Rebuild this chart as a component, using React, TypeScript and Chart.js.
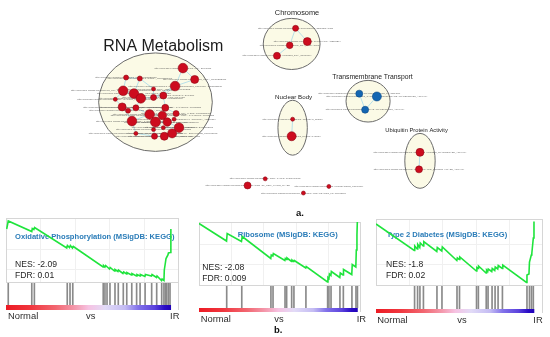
import React, { useEffect, useRef } from "react";
import { Chart, registerables } from "chart.js";
Chart.register(...registerables);

const FONT = '"Liberation Sans", Arial, Helvetica, sans-serif';

// ---------- Panel a: enrichment map (layout units, [x, y, radius]) ----------
const rnaNodes = [
  [181, 66, 4.8], [193, 78, 4], [123, 76, 2.5], [137, 77, 2.5], [173, 85, 4.8],
  [151, 88, 2], [120, 90, 4.8], [131, 93, 4.8], [138, 98, 4.8], [151, 97, 3],
  [161, 95, 3.5], [112, 99, 2], [119, 107, 4], [125, 111, 2.5], [133, 108, 3],
  [163, 108, 3.5], [147, 115, 4.8], [160, 116, 4.2], [174, 114, 3], [129, 122, 4.8],
  [153, 123, 5], [165, 123, 4.2], [172, 120, 2], [177, 129, 4.8], [161, 129, 2],
  [151, 131, 2], [133, 135, 2], [170, 135, 4.5], [152, 138, 3], [162, 138, 4],
];
const chromosomeNodes = [[296, 24, 3], [308, 38, 4], [290, 42, 3.3], [277, 53, 3.5]];
const transportNodes = [[361, 93, 3.5], [379, 96, 4.5], [367, 110, 3.5]];
const nuclearNodes = [[293, 120, 2], [292, 138, 4.5]];
const ubiquitinNodes = [[423, 155, 4], [422, 173, 3.5]];
const otherNodes = [[265, 183, 2], [247, 190, 3.5], [330, 191, 2], [304, 198, 2]];

const nodeTerms = [
  "GO_RNA_SPLICING", "GO_MRNA_PROCESSING", "GO_RNA_PROCESSING", "GO_NCRNA_PROCESSING",
  "GO_RIBONUCLEOPROTEIN_COMPLEX_BIOGENESIS", "GO_RRNA_METABOLIC_PROCESS",
  "GO_RNA_SPLICING_VIA_TRANSESTERIFICATION_REACTIONS", "GO_MRNA_METABOLIC_PROCESS",
  "GO_REGULATION_OF_MRNA_PROCESSING", "GO_RNA_LOCALIZATION", "GO_NUCLEAR_EXPORT",
  "GO_RNA_EXPORT_FROM_NUCLEUS", "GO_MRNA_EXPORT_FROM_NUCLEUS", "GO_REGULATION_OF_RNA_SPLICING",
  "GO_TRNA_METABOLIC_PROCESS", "GO_RNA_CATABOLIC_PROCESS", "GO_MRNA_CATABOLIC_PROCESS",
  "GO_NUCLEAR_TRANSCRIBED_MRNA_CATABOLIC_PROCESS", "GO_RNA_3_END_PROCESSING",
  "GO_MRNA_3_END_PROCESSING", "GO_RNA_MODIFICATION", "GO_TRNA_PROCESSING",
  "GO_SPLICEOSOMAL_COMPLEX_ASSEMBLY", "GO_RIBOSOME_BIOGENESIS", "GO_RRNA_PROCESSING",
  "GO_NCRNA_METABOLIC_PROCESS", "GO_REGULATION_OF_MRNA_METABOLIC_PROCESS",
  "GO_RNA_SECONDARY_STRUCTURE_UNWINDING", "GO_MRNA_SPLICE_SITE_SELECTION",
  "GO_TRANSLATIONAL_INITIATION",
  "GO_CHROMOSOME_SEGREGATION", "GO_CHROMATIN_ASSEMBLY", "GO_DNA_PACKAGING", "GO_PROTEIN_DNA_COMPLEX",
  "GO_ION_TRANSMEMBRANE_TRANSPORT", "GO_CATION_TRANSMEMBRANE_TRANSPORTER_ACTIVITY", "GO_ACTIVE_TRANSPORTER_ACTIVITY",
  "GO_NUCLEAR_SPECK", "GO_NUCLEAR_BODY",
  "GO_UBIQUITIN_PROTEIN_TRANSFERASE_ACTIVITY", "GO_UBIQUITIN_LIKE_PROTEIN_LIGASE_ACTIVITY",
  "GO_CELL_CYCLE_CHECKPOINT", "GO_REGULATION_OF_CELL_CYCLE_PHASE", "GO_PROTEASOME_COMPLEX",
  "GO_PROTEIN_LOCALIZATION_TO_NUCLEUS",
];
const labelPrefix = "http://www.gsea-msigdb.org/cards/";

const edges = [
  [0, 1], [0, 4], [1, 4], [4, 10], [4, 9], [2, 3], [3, 7], [6, 7], [7, 8], [8, 9], [9, 10],
  [6, 11], [11, 12], [12, 13], [13, 14], [8, 14], [14, 16], [16, 17], [17, 15], [15, 10],
  [15, 18], [16, 20], [20, 21], [21, 22], [22, 18], [20, 24], [24, 23], [23, 27], [27, 29],
  [29, 28], [28, 25], [25, 20], [19, 16], [19, 26], [26, 28], [17, 21], [21, 23], [5, 9],
  [3, 5], [12, 19], [6, 8], [2, 6],
  [30, 31], [30, 32], [32, 33], [34, 36], [36, 35], [37, 38], [39, 40],
];

const clusterNames = ["RNA Metabolism", "Chromosome", "Transmembrane Transport", "Nuclear Body", "Ubiquitin Protein Activity"];
const clusterShapes = [[153, 102, 58, 52], [292, 40.5, 29, 27], [370, 101, 22.5, 22], [293, 129, 15, 29], [423, 164, 15.5, 29]];
const clusterTitleAt = [[161, 48.3], [297.5, 9.6], [374.5, 78], [294, 99], [419.5, 133.3]];
const clusterTitleSize = [16, 7.4, 6.8, 6.2, 5.8];

// ---------- Panel b: GSEA running enrichment scores ----------
const panelTitles = ["Oxidative Phosphorylation (MSigDB: KEGG)", "Ribosome (MSigDB: KEGG)", "Type 2 Diabetes (MSigDB: KEGG)"];
const panelNES = ["-2.09", "-2.08", "-1.8"];
const panelFDR = ["0.01", "0.009", "0.02"];

const oxphosRank = [0.4, 1.3, 14.9, 15.2, 16.1, 16.5, 35.1, 35.5, 36.7, 37.2, 38.4, 38.9, 56.1, 56.4, 57.2, 57.6, 59.8, 60.2, 62.7, 63.0, 64.7, 65.0, 67.6, 68.0, 69.7, 69.9, 72.5, 72.8, 75.4, 75.7, 77.5, 77.7, 80.3, 80.6, 84.1, 84.4, 87.0, 87.3, 89.9, 90.2, 91.3, 91.5, 92.2, 92.5, 93.6, 93.9, 95.0, 95.3];
const oxphosES = [0, 0.08, -0.025, 0.005, -0.005, 0.015, -0.19, -0.165, -0.185, -0.165, -0.19, -0.175, -0.38, -0.365, -0.38, -0.365, -0.40, -0.385, -0.42, -0.405, -0.425, -0.41, -0.445, -0.43, -0.45, -0.435, -0.46, -0.445, -0.47, -0.455, -0.47, -0.455, -0.475, -0.455, -0.47, -0.455, -0.485, -0.47, -0.515, -0.50, -0.515, -0.41, -0.33, -0.295, -0.26, -0.24, -0.235, 0.0];
const oxphosHits = [1.3, 14.9, 16.4, 35.4, 37.0, 38.6, 56.2, 57.2, 58.4, 60.1, 63.0, 64.9, 67.8, 69.8, 72.7, 75.5, 77.5, 80.4, 84.2, 87.1, 90.0, 91.3, 92.2, 92.8, 93.8, 94.8];

const riboRank = [0, 17.0, 17.4, 26.2, 26.7, 44.3, 44.6, 45.6, 45.9, 53.0, 53.3, 54.0, 54.3, 57.1, 57.4, 58.5, 58.8, 65.9, 66.2, 79.3, 79.6, 80.2, 80.5, 81.4, 81.7, 86.9, 87.2, 88.9, 89.2, 94.3, 94.6, 96.8, 97.1, 97.5, 97.8];
const riboES = [0.005, -0.17, -0.095, -0.175, -0.125, -0.345, -0.31, -0.32, -0.295, -0.365, -0.345, -0.355, -0.34, -0.375, -0.36, -0.375, -0.365, -0.44, -0.425, -0.58, -0.535, -0.545, -0.50, -0.515, -0.475, -0.535, -0.49, -0.51, -0.455, -0.505, -0.405, -0.43, -0.26, -0.11, 0.06];
const riboHits = [17.1, 26.4, 44.4, 45.7, 53.1, 54.1, 57.2, 58.6, 66.0, 79.4, 80.2, 81.5, 87.0, 89.1, 94.4, 96.9, 97.8];

const t2dRank = [0, 22.9, 23.2, 24.7, 25.0, 26.2, 26.5, 28.3, 28.6, 36.4, 36.7, 39.4, 39.7, 48.4, 48.7, 49.9, 50.2, 60.1, 60.4, 61.2, 61.4, 65.9, 66.2, 66.9, 67.2, 69.3, 69.6, 71.1, 71.4, 72.9, 73.2, 75.6, 75.9, 90.1, 90.4, 91.6, 91.9, 93.0, 93.3, 94.2, 94.6];
const t2dES = [0, -0.265, -0.22, -0.25, -0.205, -0.235, -0.19, -0.22, -0.175, -0.275, -0.235, -0.27, -0.23, -0.365, -0.34, -0.355, -0.33, -0.47, -0.435, -0.445, -0.42, -0.49, -0.46, -0.475, -0.45, -0.475, -0.445, -0.465, -0.43, -0.45, -0.415, -0.445, -0.41, -0.585, -0.51, -0.50, -0.38, -0.31, -0.295, -0.14, 0.025];
const t2dHits = [23.1, 24.9, 26.3, 28.4, 36.5, 39.5, 48.5, 50.0, 60.2, 61.3, 66.0, 67.1, 69.5, 71.3, 73.1, 75.7, 90.4, 91.9, 93.1, 94.2];

const listEnds = [95.4, 98, 94.8];
const vsAt = [49, 49.4, 51.5];

const panelRanks = [oxphosRank, riboRank, t2dRank];
const panelES = [oxphosES, riboES, t2dES];
const panelHits = [oxphosHits, riboHits, t2dHits];

const panelLayouts = [
  { left: 6, top: 218, width: 173, esH: 65, barH: 22, gradH: 5, labelDy: 6, yMin: -0.54, yMax: 0.11, tx: 9, ty: 19, tw: 163, nx: 9, ny: 46.3, normalX: 2 },
  { left: 199, top: 222, width: 162, esH: 64, barH: 22, gradH: 4, labelDy: 7, yMin: -0.62, yMax: 0.02, tx: 38.7, ty: 13, tw: 101, nx: 3.3, ny: 45.7, normalX: 1.7 },
  { left: 376, top: 219, width: 167, esH: 67, barH: 23, gradH: 4, labelDy: 7, yMin: -0.62, yMax: 0.05, tx: 10.7, ty: 16, tw: 122, nx: 10, ny: 45.3, normalX: 1.3 },
];

const networkPlugin = {
  id: "networkDecor",
  beforeDatasetsDraw(chart: any) {
    const { ctx } = chart;
    const xs = chart.scales.x, ys = chart.scales.y;
    const all = [...rnaNodes, ...chromosomeNodes, ...transportNodes, ...nuclearNodes, ...ubiquitinNodes, ...otherNodes];
    ctx.save();
    clusterShapes.forEach(([cx, cy, rx, ry]) => {
      const px = xs.getPixelForValue(cx), py = ys.getPixelForValue(cy);
      const prx = Math.abs(xs.getPixelForValue(cx + rx) - px), pry = Math.abs(ys.getPixelForValue(cy + ry) - py);
      ctx.beginPath();
      ctx.ellipse(px, py, prx, pry, 0, 0, Math.PI * 2);
      ctx.fillStyle = "#fbfae6";
      ctx.fill();
      ctx.strokeStyle = "#6b6b6b";
      ctx.lineWidth = 1;
      ctx.stroke();
    });
    ctx.strokeStyle = "#a6d9e8";
    ctx.lineWidth = 0.8;
    edges.forEach(([a, b]) => {
      ctx.beginPath();
      ctx.moveTo(xs.getPixelForValue(all[a][0]), ys.getPixelForValue(all[a][1]));
      ctx.lineTo(xs.getPixelForValue(all[b][0]), ys.getPixelForValue(all[b][1]));
      ctx.stroke();
    });
    ctx.font = `2.3px ${FONT}`;
    ctx.textAlign = "center";
    ctx.textBaseline = "middle";
    ctx.fillStyle = "rgba(80,80,80,0.85)";
    all.forEach(([nx, ny], i) => {
      ctx.fillText(labelPrefix + nodeTerms[i], xs.getPixelForValue(nx), ys.getPixelForValue(ny));
    });
    ctx.restore();
  },
  afterDatasetsDraw(chart: any) {
    const { ctx } = chart;
    const xs = chart.scales.x, ys = chart.scales.y;
    ctx.save();
    ctx.fillStyle = "#1c1c1c";
    ctx.textAlign = "center";
    ctx.textBaseline = "alphabetic";
    clusterNames.forEach((name, i) => {
      ctx.font = `${clusterTitleSize[i]}px ${FONT}`;
      ctx.fillText(name, xs.getPixelForValue(clusterTitleAt[i][0]), ys.getPixelForValue(clusterTitleAt[i][1]));
    });
    ctx.restore();
  },
};

function NetworkPanel() {
  const ref = useRef<HTMLCanvasElement>(null);
  useEffect(() => {
    const red = [...rnaNodes, ...chromosomeNodes, ...nuclearNodes, ...ubiquitinNodes, ...otherNodes];
    const chart = new Chart(ref.current as HTMLCanvasElement, {
      type: "bubble",
      data: {
        datasets: [
          { data: red.map(([x, y, r]) => ({ x, y, r })), backgroundColor: "#cd0c1e", borderColor: "#8f0815", borderWidth: 0.6 },
          { data: transportNodes.map(([x, y, r]) => ({ x, y, r })), backgroundColor: "#1466b2", borderColor: "#0c4a86", borderWidth: 0.6 },
        ],
      },
      options: {
        responsive: false,
        animation: false,
        devicePixelRatio: 1,
        layout: { padding: 0 },
        plugins: { legend: { display: false }, tooltip: { enabled: false } },
        scales: {
          x: { type: "linear", min: 0, max: 550, display: false },
          y: { type: "linear", min: 0, max: 210, reverse: true, display: false },
        },
      } as any,
      plugins: [networkPlugin],
    });
    return () => chart.destroy();
  }, []);
  return <canvas ref={ref} width={550} height={210} style={{ position: "absolute", left: 0, top: 0 }} />;
}

const esPlugin = {
  id: "esDecor",
  beforeDatasetsDraw(chart: any, _args: any, o: any) {
    const { ctx, chartArea } = chart;
    const { left, top, right, bottom } = chartArea;
    ctx.save();
    ctx.strokeStyle = "#d6d6d6";
    ctx.lineWidth = 1;
    ctx.strokeRect(left + 0.5, top + 0.5, right - left - 1, bottom - top - 1);
    ctx.textAlign = "left";
    ctx.textBaseline = "middle";
    ctx.fillStyle = "#2a7cb8";
    ctx.font = `bold 7.6px ${FONT}`;
    ctx.fillText(o.title, left + o.tx, top + o.ty, o.tw);
    ctx.fillStyle = "#262626";
    ctx.font = `8.6px ${FONT}`;
    ctx.fillText("NES: " + o.nes, left + o.nx, top + o.ny);
    ctx.fillText("FDR: " + o.fdr, left + o.nx, top + o.ny + 11);
    ctx.restore();
  },
};

const barcodePlugin = {
  id: "barcodeDecor",
  beforeDatasetsDraw(chart: any, _args: any, o: any) {
    const { ctx, chartArea } = chart;
    const { left, top, right, bottom } = chartArea;
    const xs = chart.scales.x;
    const x0 = xs.getPixelForValue(0), x1 = xs.getPixelForValue(o.listEnd);
    ctx.save();
    const g = ctx.createLinearGradient(x0, 0, x1, 0);
    g.addColorStop(0, "#ec1b24");
    g.addColorStop(0.15, "#f0363e");
    g.addColorStop(0.3, "#f26670");
    g.addColorStop(0.42, "#f49aae");
    g.addColorStop(0.5, "#f6c2e2");
    g.addColorStop(0.6, "#e2dbf7");
    g.addColorStop(0.72, "#c4bcf3");
    g.addColorStop(0.8, "#8373ea");
    g.addColorStop(0.9, "#5b42dd");
    g.addColorStop(0.96, "#2a0cc6");
    g.addColorStop(1, "#2000b8");
    ctx.fillStyle = g;
    ctx.fillRect(x0, bottom, x1 - x0, o.gradH);
    ctx.strokeStyle = "#d6d6d6";
    ctx.lineWidth = 1;
    ctx.beginPath();
    ctx.moveTo(right - 0.5, top);
    ctx.lineTo(right - 0.5, bottom + o.gradH);
    ctx.stroke();
    ctx.fillStyle = "#2e2e2e";
    ctx.font = `9.4px ${FONT}`;
    ctx.textBaseline = "middle";
    const ly = bottom + o.gradH + o.labelDy;
    ctx.textAlign = "left";
    ctx.fillText("Normal", left + o.normalX, ly);
    ctx.textAlign = "center";
    ctx.fillText("vs", xs.getPixelForValue(o.vsAt), ly);
    ctx.textAlign = "left";
    ctx.fillText("IR", x1 - 1, ly);
    ctx.restore();
  },
};

function GseaPanel({ idx }: { idx: number }) {
  const esRef = useRef<HTMLCanvasElement>(null);
  const bcRef = useRef<HTMLCanvasElement>(null);
  const L = panelLayouts[idx];
  const padRight = 12;
  const bcH = L.barH + L.gradH + L.labelDy + 8;
  useEffect(() => {
    const ranks = panelRanks[idx], es = panelES[idx], hits = panelHits[idx];
    const gridStyle = { color: "#f0f0f0", drawTicks: false, lineWidth: 1 };
    const esChart = new Chart(esRef.current as HTMLCanvasElement, {
      type: "line",
      data: {
        datasets: [{
          data: ranks.map((r, i) => ({ x: r, y: es[i] })),
          borderColor: "#1fe43c",
          borderWidth: 1.6,
          pointRadius: 0,
          tension: 0,
          fill: false,
        }],
      },
      options: {
        responsive: false,
        animation: false,
        devicePixelRatio: 1,
        layout: { padding: 0 },
        plugins: {
          legend: { display: false },
          tooltip: { enabled: false },
          esDecor: { title: panelTitles[idx], nes: panelNES[idx], fdr: panelFDR[idx], tx: L.tx, ty: L.ty, tw: L.tw, nx: L.nx, ny: L.ny },
        },
        scales: {
          x: { type: "linear", min: 0, max: 100, ticks: { display: false, stepSize: 20 }, grid: gridStyle, border: { display: false } },
          y: { type: "linear", min: L.yMin, max: L.yMax, ticks: { display: false, stepSize: 0.2 }, grid: gridStyle, border: { display: false } },
        },
      } as any,
      plugins: [esPlugin],
    });
    const bcChart = new Chart(bcRef.current as HTMLCanvasElement, {
      type: "bar",
      data: {
        datasets: [{
          data: hits.map((h) => ({ x: h, y: 1 })),
          backgroundColor: "#8a8a8a",
          barThickness: 1,
          borderWidth: 0,
        }],
      },
      options: {
        responsive: false,
        animation: false,
        devicePixelRatio: 1,
        layout: { padding: { left: 0, top: 0, right: padRight, bottom: bcH - L.barH } },
        plugins: {
          legend: { display: false },
          tooltip: { enabled: false },
          barcodeDecor: { listEnd: listEnds[idx], vsAt: vsAt[idx], gradH: L.gradH, labelDy: L.labelDy, normalX: L.normalX },
        },
        scales: {
          x: { type: "linear", min: 0, max: 100, offset: false, display: false },
          y: { type: "linear", min: 0, max: 1, display: false },
        },
      } as any,
      plugins: [barcodePlugin],
    });
    return () => {
      esChart.destroy();
      bcChart.destroy();
    };
  }, [idx]);
  return (
    <>
      <canvas ref={esRef} width={L.width} height={L.esH} style={{ position: "absolute", left: L.left, top: L.top }} />
      <canvas ref={bcRef} width={L.width + padRight} height={bcH} style={{ position: "absolute", left: L.left, top: L.top + L.esH }} />
    </>
  );
}

export default function App() {
  const lbl: React.CSSProperties = { position: "absolute", fontFamily: FONT, fontWeight: "bold", fontSize: 9.5, lineHeight: 1, color: "#111" };
  return (
    <div style={{ position: "fixed", left: 0, top: 0, width: 550, height: 337, background: "#fff", overflow: "hidden" }}>
      <NetworkPanel />
      <div style={{ ...lbl, left: 296, top: 207.6 }}>a.</div>
      <GseaPanel idx={0} />
      <GseaPanel idx={1} />
      <GseaPanel idx={2} />
      <div style={{ ...lbl, left: 274, top: 325 }}>b.</div>
    </div>
  );
}
